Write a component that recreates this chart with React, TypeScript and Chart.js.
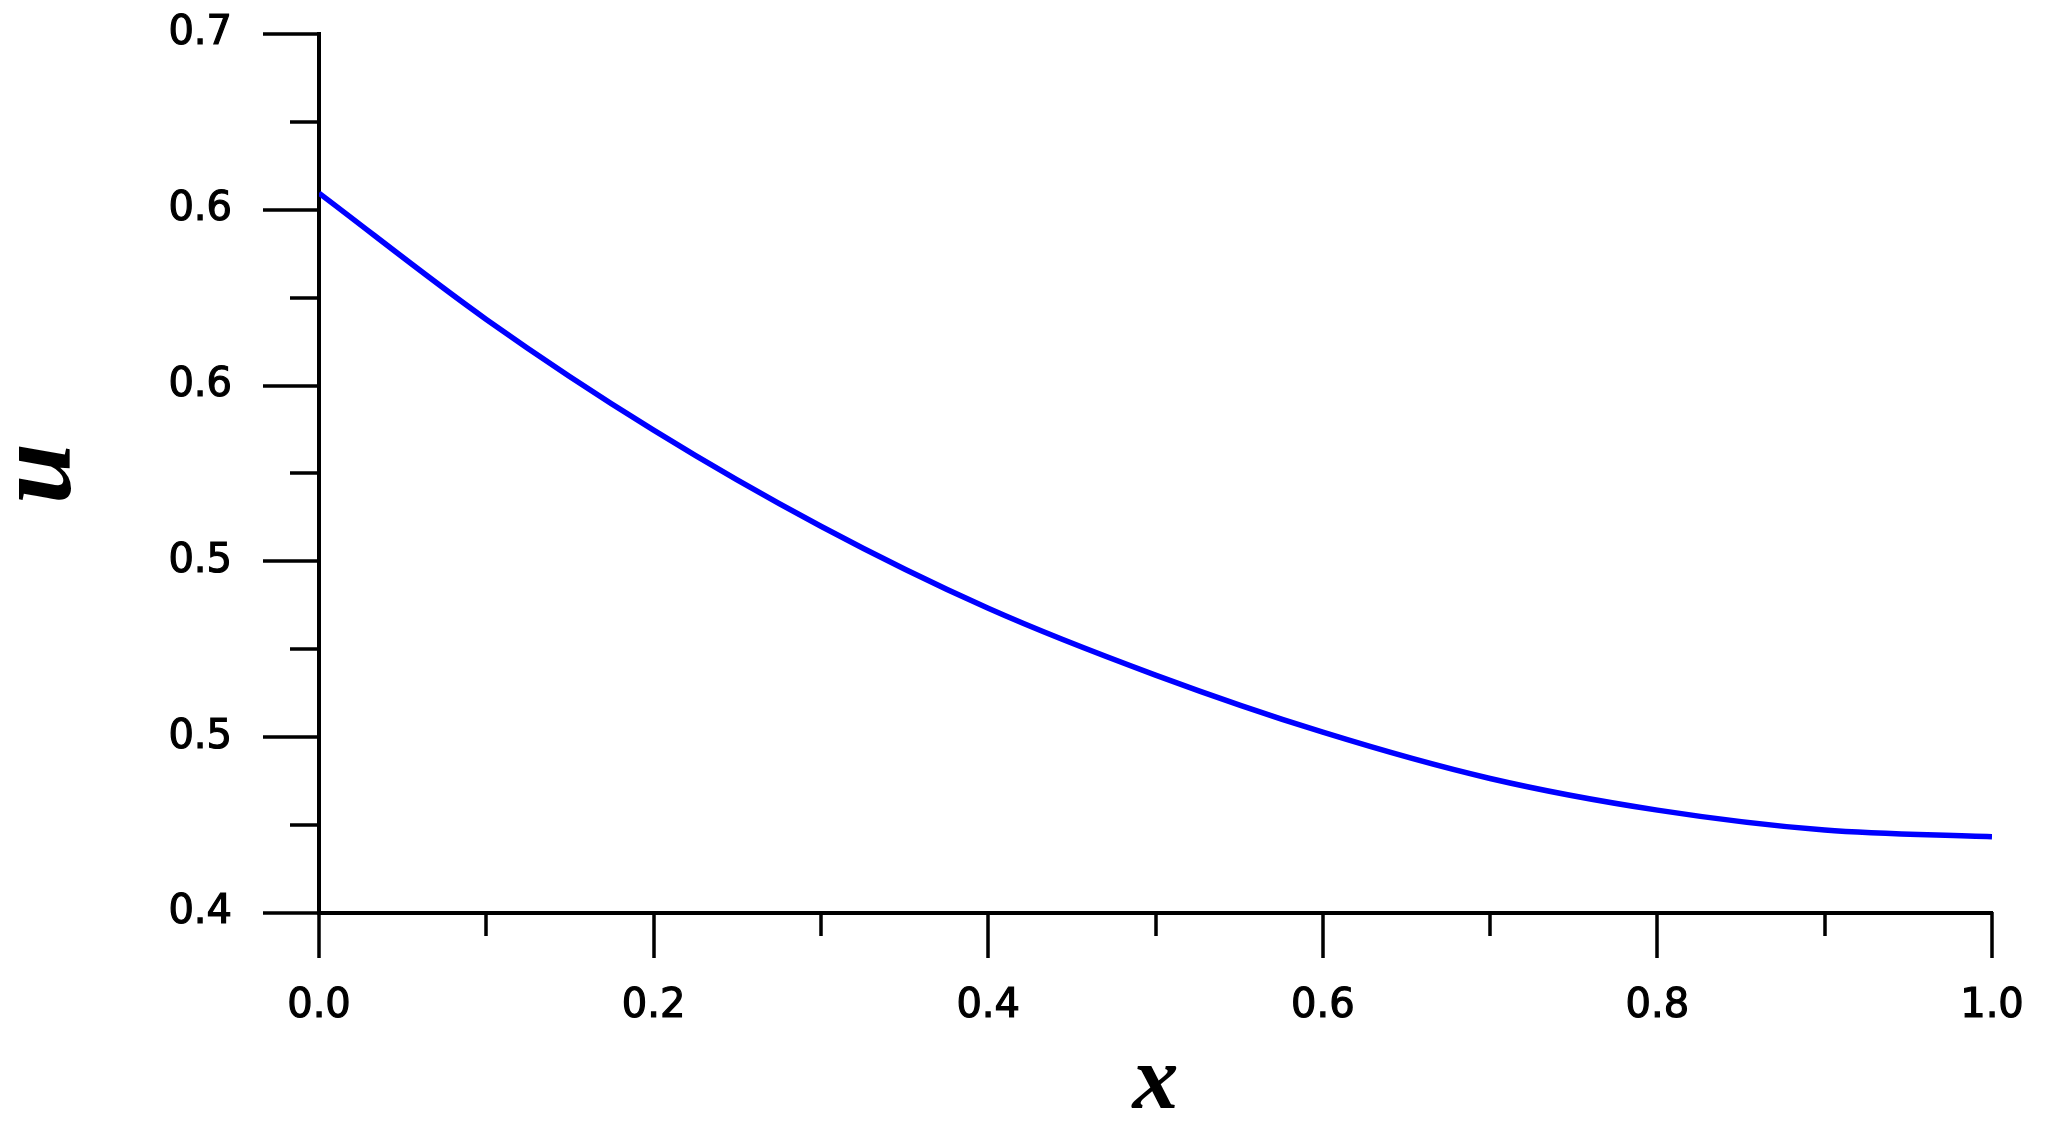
import React, { useEffect, useRef } from "react";
import { Chart, registerables } from "chart.js";

Chart.register(...registerables);

// Data
const xValues = [0, 0.1, 0.2, 0.3, 0.4, 0.5, 0.6, 0.7, 0.8, 0.9, 1.0];
const uValues = [0.6457, 0.6026, 0.5648, 0.532, 0.504, 0.4812, 0.4617, 0.4459, 0.4351, 0.4283, 0.426];

// Axis ticks
const yMajorTicks = [0.4, 0.46, 0.52, 0.58, 0.64, 0.7];
const yMinorTicks = [0.43, 0.49, 0.55, 0.61, 0.67];
const xMajorTicks = [0, 0.2, 0.4, 0.6, 0.8, 1.0];
const xMinorTicks = [0.1, 0.3, 0.5, 0.7, 0.9];

const xTitle = "x";
const yTitle = "u";

const tickPlugin = {
  id: "customTicks",
  afterDraw(chart: any) {
    const { ctx, chartArea, scales } = chart;
    const xs = scales.x;
    const ys = scales.y;
    const left = chartArea.left;
    const bottom = chartArea.bottom;
    ctx.save();
    ctx.strokeStyle = "#000";
    ctx.lineWidth = 3.5;
    ctx.lineCap = "butt";
    ctx.beginPath();
    yMajorTicks.forEach((v) => {
      const p = Math.round(ys.getPixelForValue(v));
      ctx.moveTo(left - 56, p);
      ctx.lineTo(left + 1, p);
    });
    yMinorTicks.forEach((v) => {
      const p = Math.round(ys.getPixelForValue(v));
      ctx.moveTo(left - 29, p);
      ctx.lineTo(left + 1, p);
    });
    xMajorTicks.forEach((v) => {
      const p = Math.round(xs.getPixelForValue(v));
      ctx.moveTo(p, bottom - 1);
      ctx.lineTo(p, bottom + 45);
    });
    xMinorTicks.forEach((v) => {
      const p = Math.round(xs.getPixelForValue(v));
      ctx.moveTo(p, bottom - 1);
      ctx.lineTo(p, bottom + 23);
    });
    ctx.stroke();
    ctx.restore();
  },
};

const zeroPadding = (scale: any) => {
  scale.paddingTop = 0;
  scale.paddingBottom = 0;
  scale.paddingLeft = 0;
  scale.paddingRight = 0;
};

const tickFont = { family: "DejaVu Sans", size: 40 };

export default function App() {
  const ref = useRef<HTMLCanvasElement>(null);

  useEffect(() => {
    if (!ref.current) return;
    const chart = new Chart(ref.current, {
      type: "line",
      data: {
        datasets: [
          {
            data: xValues.map((x, i) => ({ x, y: uValues[i] })),
            borderColor: "#0000ff",
            borderWidth: 5.5,
            pointRadius: 0,
            cubicInterpolationMode: "monotone",
            fill: false,
          },
        ],
      },
      options: {
        animation: false,
        responsive: true,
        maintainAspectRatio: false,
        devicePixelRatio: 1,
        layout: { padding: { left: 0, top: 34, right: 54, bottom: 0 } },
        plugins: {
          legend: { display: false },
          tooltip: { enabled: false },
        },
        scales: {
          x: {
            type: "linear",
            min: 0,
            max: 1,
            afterBuildTicks: (scale: any) => {
              scale.ticks = xMajorTicks.map((v) => ({ value: v }));
            },
            afterFit: (scale: any) => {
              scale.height = 213;
              zeroPadding(scale);
            },
            grid: { display: false },
            border: { display: true, color: "#000", width: 4 },
            ticks: {
              autoSkip: false,
              maxRotation: 0,
              padding: 62,
              color: "#000",
              textStrokeColor: "#000",
              textStrokeWidth: 1.2,
              font: tickFont,
              callback: (v: any) => Number(v).toFixed(1),
            },
            title: {
              display: true,
              text: xTitle,
              color: "#000",
              font: { family: "Liberation Serif", style: "italic", weight: "bold", size: 92, lineHeight: 0.7 },
              padding: { top: 0, bottom: 10 },
            },
          },
          y: {
            type: "linear",
            min: 0.4,
            max: 0.7,
            afterBuildTicks: (scale: any) => {
              scale.ticks = yMajorTicks.map((v) => ({ value: v }));
            },
            afterFit: (scale: any) => {
              scale.width = 319;
              zeroPadding(scale);
            },
            grid: { display: false },
            border: { display: true, color: "#000", width: 4 },
            ticks: {
              autoSkip: false,
              padding: 79,
              color: "#000",
              textStrokeColor: "#000",
              textStrokeWidth: 1.2,
              font: tickFont,
              callback: (v: any) => Number(v).toFixed(1),
            },
            title: {
              display: true,
              text: yTitle,
              color: "#000",
              font: { family: "Liberation Serif", style: "italic", weight: "bold", size: 110, lineHeight: 0.5 },
              padding: { top: 14, bottom: 0 },
            },
          },
        },
      },
      plugins: [tickPlugin],
    });
    return () => chart.destroy();
  }, []);

  return (
    <div
      style={{
        position: "fixed",
        left: 0,
        top: 0,
        width: 2046,
        height: 1126,
        background: "#fff",
      }}
    >
      <canvas ref={ref} />
    </div>
  );
}
